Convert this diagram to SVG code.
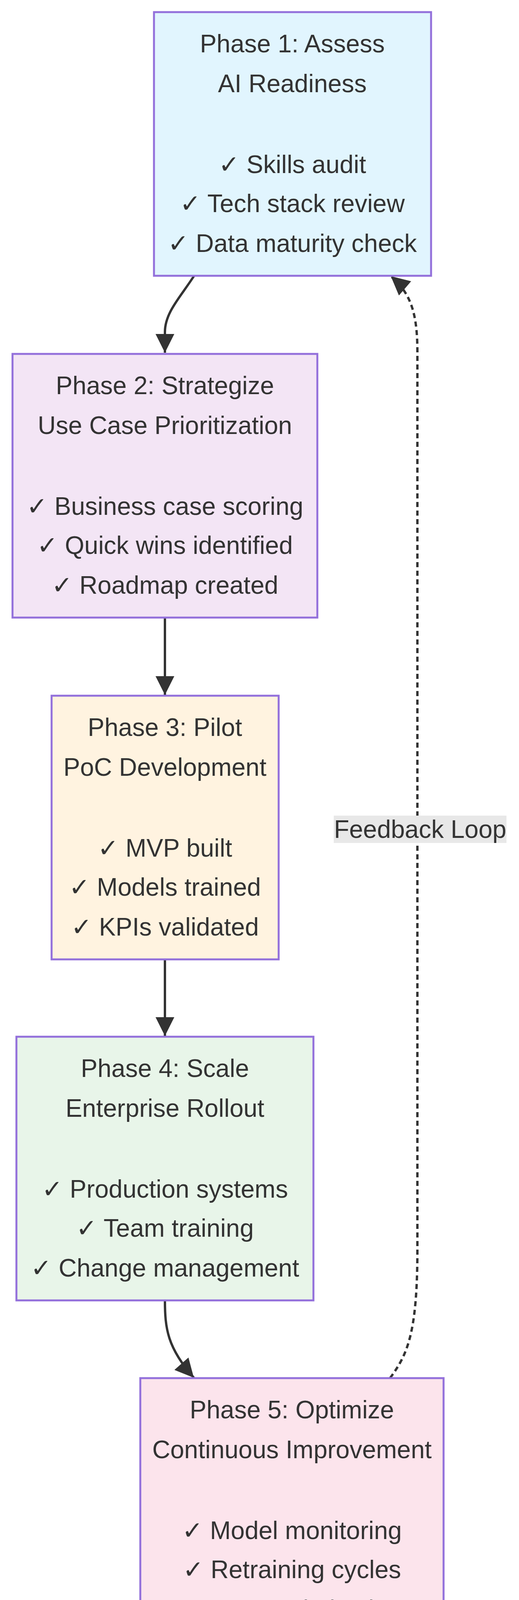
<svg xmlns="http://www.w3.org/2000/svg" width="1328" height="4236" viewBox="0 0 1328 4236">
<style>
.box{stroke:#9370db;stroke-width:5}
.t{font-family:"Liberation Sans","DejaVu Sans",sans-serif;font-size:64px;fill:#333;text-anchor:middle}
.e{fill:none;stroke:#333;stroke-width:6}
.d{stroke-dasharray:13,9}
</style>
<defs>
<marker id="ah" viewBox="0 0 10 10" refX="10" refY="5" markerWidth="50" markerHeight="48" markerUnits="userSpaceOnUse" orient="auto">
<path d="M0,0 L10,5 L0,10 z" fill="#333"/>
</marker>
</defs>
<rect width="1328" height="4236" fill="#fff"/>
<g id="edges">
<path class="e" d="M496,707 C462,760 422,800 422,850 L422,903" marker-end="url(#ah)"/>
<path class="e" d="M422,1581 L422,1779" marker-end="url(#ah)"/>
<path class="e" d="M422,2457 L422,2652" marker-end="url(#ah)"/>
<path class="e" d="M422,3329 C422,3400 428,3450 496,3527" marker-end="url(#ah)"/>
<path class="e d" d="M998,3528 C1040,3470 1068,3420 1068,3200 L1068,900 C1068,800 1050,750 1000,707" marker-end="url(#ah)"/>
<rect x="854" y="2088" width="442" height="70" fill="#e8e8e8"/>
<text class="t" x="1075" y="2145">Feedback Loop</text>
</g>
<g id="phase1">
<rect class="box" x="394" y="31" width="709" height="675" fill="#e1f5fe"/>
<text class="t" x="748" y="134">Phase 1: Assess</text>
<text class="t" x="748" y="236">AI Readiness</text>
<text class="t" x="748" y="443">✓ Skills audit</text>
<text class="t" x="748" y="543">✓ Tech stack review</text>
<text class="t" x="748" y="645">✓ Data maturity check</text>
</g>
<g id="phase2">
<rect class="box" x="32" y="906" width="780" height="675" fill="#f3e5f5"/>
<text class="t" x="422" y="1009">Phase 2: Strategize</text>
<text class="t" x="422" y="1111">Use Case Prioritization</text>
<text class="t" x="422" y="1318">✓ Business case scoring</text>
<text class="t" x="422" y="1418">✓ Quick wins identified</text>
<text class="t" x="422" y="1520">✓ Roadmap created</text>
</g>
<g id="phase3">
<rect class="box" x="132" y="1781" width="581" height="675" fill="#fff3e0"/>
<text class="t" x="422" y="1884">Phase 3: Pilot</text>
<text class="t" x="422" y="1986">PoC Development</text>
<text class="t" x="422" y="2193">✓ MVP built</text>
<text class="t" x="422" y="2293">✓ Models trained</text>
<text class="t" x="422" y="2395">✓ KPIs validated</text>
</g>
<g id="phase4">
<rect class="box" x="42" y="2654" width="760" height="675" fill="#e8f5e9"/>
<text class="t" x="422" y="2757">Phase 4: Scale</text>
<text class="t" x="422" y="2859">Enterprise Rollout</text>
<text class="t" x="422" y="3066">✓ Production systems</text>
<text class="t" x="422" y="3166">✓ Team training</text>
<text class="t" x="422" y="3268">✓ Change management</text>
</g>
<g id="phase5">
<rect class="box" x="359" y="3528" width="776" height="675" fill="#fce4ec"/>
<text class="t" x="747" y="3631">Phase 5: Optimize</text>
<text class="t" x="747" y="3733">Continuous Improvement</text>
<text class="t" x="747" y="3940">✓ Model monitoring</text>
<text class="t" x="747" y="4040">✓ Retraining cycles</text>
<text class="t" x="747" y="4142">✓ Cost optimization</text>
</g>
</svg>
